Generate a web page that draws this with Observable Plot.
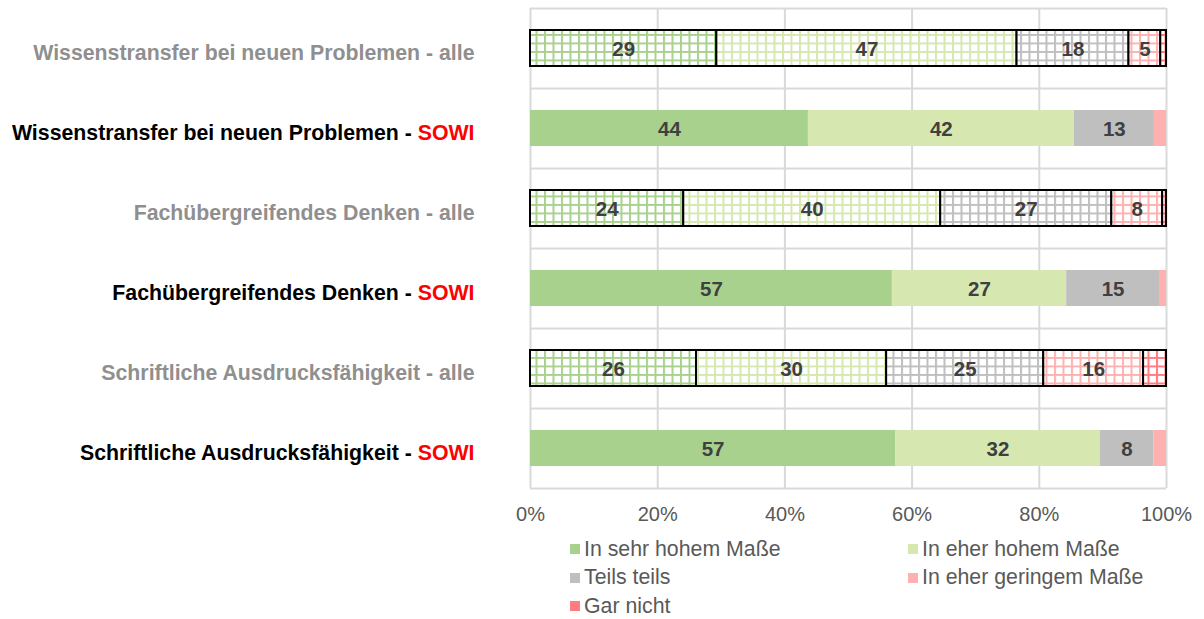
<!DOCTYPE html>
<html><head><meta charset="utf-8">
<script src="https://cdn.jsdelivr.net/npm/d3@7"></script>
<script src="https://cdn.jsdelivr.net/npm/@observablehq/plot@0.6"></script>
<style>
body{margin:0;background:#fff;font-family:"Liberation Sans",Arial,sans-serif;}
#chart{position:absolute;left:0;top:0;}
#legend{position:absolute;left:570px;top:535px;display:grid;grid-template-columns:338px 320px;}
.item{display:flex;align-items:center;height:28.5px;font-size:21.3px;color:#595959;white-space:nowrap;}
.sw{width:10px;height:10px;margin-right:4px;flex:none;}
</style></head><body>
<div id="chart"></div><div id="legend"></div>
<script>
const categories = [
  "Wissenstransfer bei neuen Problemen - alle",
  "Wissenstransfer bei neuen Problemen - SOWI",
  "Fachübergreifendes Denken - alle",
  "Fachübergreifendes Denken - SOWI",
  "Schriftliche Ausdrucksfähigkeit - alle",
  "Schriftliche Ausdrucksfähigkeit - SOWI"
];
const hatchedRows = [true, false, true, false, true, false];
const series = ["In sehr hohem Maße", "In eher hohem Maße", "Teils teils", "In eher geringem Maße", "Gar nicht"];
const seriesColors = ["#A9D18E", "#D6E8B0", "#BFBFBF", "#FFB1B1", "#FF7C80"];
const sehrHoch   = [29.3, 43.7, 24.1, 56.9, 26.1, 57.4];
const eherHoch   = [47.2, 41.8, 40.4, 27.4, 29.9, 32.2];
const teils      = [17.6, 12.6, 26.9, 14.6, 24.7, 8.4];
const eherGering = [5.0, 1.9, 8.0, 1.1, 15.7, 2.0];
const garNicht   = [0.9, 0, 0.6, 0, 3.6, 0];
const xTicks = [0, 20, 40, 60, 80, 100];

const valueSets = [sehrHoch, eherHoch, teils, eherGering, garNicht];
const data = [];
categories.forEach((cat, r) => {
  series.forEach((s, i) => {
    const v = valueSets[i][r];
    if (v > 0) data.push({cat, series: s, idx: i, value: v, hatched: hatchedRows[r]});
  });
});

const fillOf = d => d.hatched ? `url(#pat${d.idx})` : seriesColors[d.idx];

const plot = Plot.plot({
  width: 1204,
  height: 530,
  marginLeft: 530,
  marginRight: 38,
  marginTop: 8,
  marginBottom: 42,
  style: {fontFamily: '"Liberation Sans", Arial, sans-serif', background: "white"},
  x: {domain: [0, 100], ticks: xTicks, tickFormat: d => d + "%"},
  y: {domain: categories, paddingInner: 0.55, paddingOuter: 0.275},
  color: {type: "identity"},
  marks: [
    Plot.ruleX(xTicks, {stroke: "#D9D9D9", strokeWidth: 2}),
    Plot.ruleY(categories, {stroke: "#D9D9D9", strokeWidth: 2, dy: -40}),
    Plot.ruleY([categories[categories.length - 1]], {stroke: "#D9D9D9", strokeWidth: 2, dy: 40}),
    Plot.barX(data, Plot.stackX({
      x: "value", y: "cat",
      fill: fillOf,
      stroke: d => d.hatched ? "black" : "none",
      strokeWidth: 2
    })),
    Plot.text(data, Plot.stackX({
      x: "value", y: "cat",
      text: d => d.value >= 4.5 ? String(Math.round(d.value)) : "",
      fill: "#404040", fontWeight: "bold", fontSize: 20.5, dy: 1
    })),
    Plot.axisX({ticks: xTicks, tickFormat: d => d + "%", tickSize: 0, tickPadding: 18, fontSize: 20, fill: "#595959", label: null}),
    Plot.axisY({tickSize: 0, tickPadding: 56, fontSize: 21.3, fontWeight: "bold", dy: 5, label: null})
  ]
});

// pattern defs for the "alle" (hatched) bars
const svg = d3.select(plot);
const defs = svg.insert("defs", ":first-child");
seriesColors.forEach((c, i) => {
  const p = defs.append("pattern").attr("id", "pat" + i)
    .attr("patternUnits", "userSpaceOnUse").attr("width", 8.5).attr("height", 8.5);
  p.append("rect").attr("width", 8.5).attr("height", 8.5).attr("fill", "white");
  p.append("path").attr("d", "M0,1H8.5M1,0V8.5").attr("stroke", c).attr("stroke-width", 2).attr("fill", "none");
});

// colour the y labels: "alle" grey, SOWI black with red "SOWI"
svg.selectAll('g[aria-label="y-axis tick label"] text').each(function() {
  const t = d3.select(this);
  const s = t.text();
  if (s.endsWith("SOWI")) {
    const head = s.slice(0, s.length - 4);
    t.text(null);
    t.append("tspan").attr("fill", "black").text(head);
    t.append("tspan").attr("fill", "#FF0000").text("SOWI");
  } else {
    t.attr("fill", "#8F8F8F");
  }
});

document.getElementById("chart").appendChild(plot);

const legend = d3.select("#legend");
series.forEach((s, i) => {
  const it = legend.append("div").attr("class", "item");
  it.append("div").attr("class", "sw").style("background", seriesColors[i]);
  it.append("span").text(s);
});
</script>
</body></html>
